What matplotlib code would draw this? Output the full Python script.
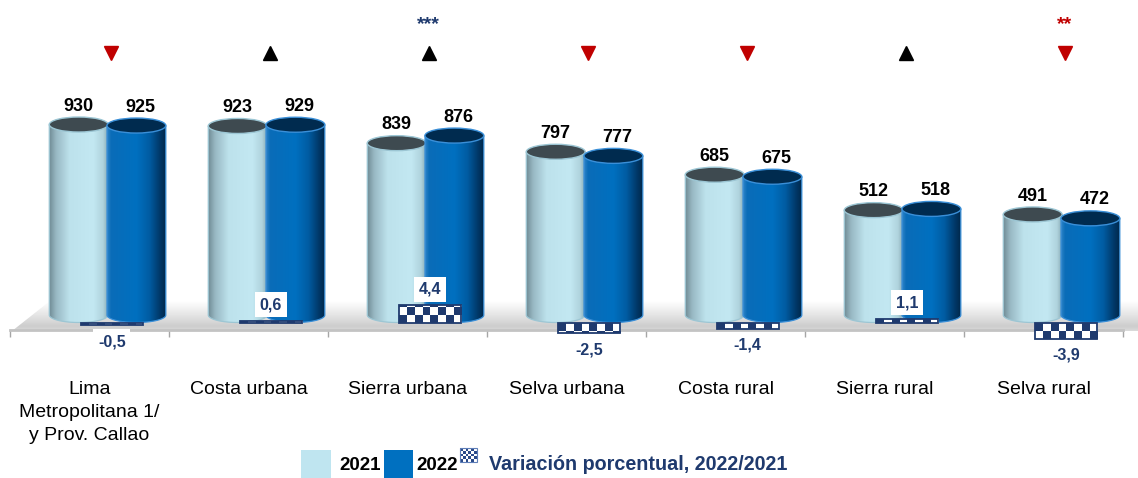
import numpy as np
import matplotlib
matplotlib.use("Agg")
import matplotlib.pyplot as plt
from matplotlib import font_manager as fm
from matplotlib.patches import Ellipse, PathPatch, Rectangle, Polygon
from matplotlib.path import Path
from matplotlib.colors import LinearSegmentedColormap

# ---------------- data ----------------
categories = ["Lima\nMetropolitana 1/\ny Prov. Callao", "Costa urbana", "Sierra urbana",
              "Selva urbana", "Costa rural", "Sierra rural", "Selva rural"]
values_2021 = [930, 923, 839, 797, 685, 512, 491]
values_2022 = [925, 929, 876, 777, 675, 518, 472]
variation = [-0.5, 0.6, 4.4, -2.5, -1.4, 1.1, -3.9]
variation_labels = ["-0,5", "0,6", "4,4", "-2,5", "-1,4", "1,1", "-3,9"]
trend = ["down", "up", "up", "down", "down", "up", "down"]
significance = ["", "", "***", "", "", "", "**"]
series_names = ["2021", "2022", "Variación porcentual, 2022/2021"]

# ---------------- fonts ----------------
names = {f.name for f in fm.fontManager.ttflist}
NARROW = "Liberation Sans Narrow" if "Liberation Sans Narrow" in names else "Liberation Sans"
SANS = "Liberation Sans"
plt.rcParams["font.family"] = [SANS, "DejaVu Sans"]

NAVY = "#1f3a6e"
LIGHT = "#bfe5f0"
DARK = "#0070c0"

W, H = 1138, 478
fig = plt.figure(figsize=(W / 100, H / 100), dpi=100)

# background axes in pixel coordinates (floor + legend)
bg = fig.add_axes([0, 0, 1, 1], zorder=-1)
bg.set_xlim(0, W)
bg.set_ylim(H, 0)
bg.axis("off")

floor = Polygon([(12, 331), (50, 301), (W, 301), (W, 331)], closed=True,
                facecolor="none", edgecolor="none")
bg.add_patch(floor)
fcmap = LinearSegmentedColormap.from_list(
    "floor", [(0, "#ffffff"), (0.45, "#e6e6e6"), (0.85, "#cdcdcd"), (1, "#dadada")])
grad_v = fcmap(np.linspace(0, 1, 64))[:, None, :]
im = bg.imshow(grad_v, extent=(0, W, 331, 301), aspect="auto", interpolation="bilinear")
im.set_clip_path(floor)
bg.set_xlim(0, W)
bg.set_ylim(H, 0)

# main axes
ax_bottom_px = 330
ax = fig.add_axes([10 / W, (H - ax_bottom_px) / H, 1113 / W, ax_bottom_px / H])
ax.patch.set_alpha(0)
YLIM = (-73.2, 1538)
ax.set_xlim(-0.5, 6.5)
ax.set_ylim(*YLIM)
px_per_unit = ax_bottom_px / (YLIM[1] - YLIM[0])
eh = 15 / px_per_unit  # ellipse height in data units

x = np.arange(len(categories))
bw = 0.37
bars21 = ax.bar(x - 0.068, values_2021, bw, color="none", edgecolor="none", zorder=3)
bars22 = ax.bar(x + 0.295, values_2022, bw, color="none", edgecolor="none", zorder=5)

cm21 = LinearSegmentedColormap.from_list(
    "c21", [(0, "#6f8a94"), (0.12, "#98b8c3"), (0.35, "#bde2ec"), (0.75, "#c3e8f2"),
            (0.92, "#afd3dd"), (1, "#8aabb5")])
cm22 = LinearSegmentedColormap.from_list(
    "c22", [(0, "#2f85c8"), (0.07, "#0a6cb8"), (0.5, "#0070c0"), (0.72, "#005ca2"),
            (0.9, "#003868"), (1, "#00284a")])


def cylinder(rect, cmap, edge, topc, z):
    x0 = rect.get_x()
    w = rect.get_width()
    x1 = x0 + w
    h = rect.get_height()
    cx = x0 + w / 2
    t = np.linspace(0, -np.pi, 60)
    verts = [(x0, h), (x1, h)] + [(cx + w / 2 * np.cos(a), eh / 2 * np.sin(a)) for a in t] + [(x0, h)]
    codes = [Path.MOVETO] + [Path.LINETO] * (len(verts) - 2) + [Path.CLOSEPOLY]
    body = PathPatch(Path(verts, codes), facecolor="none", edgecolor=edge, lw=0.9, zorder=z + 0.1)
    ax.add_patch(body)
    g = cmap(np.linspace(0, 1, 256))[None, :, :]
    img = ax.imshow(g, extent=(x0, x1, -eh / 2, h), aspect="auto", zorder=z,
                    interpolation="bilinear")
    img.set_clip_path(body)
    top = Ellipse((cx, h), w, eh, facecolor=topc, edgecolor=edge, lw=1.0, zorder=z + 0.2)
    ax.add_patch(top)
    return cx, h


for r in bars21:
    cx, h = cylinder(r, cm21, "#9cc6d4", "#3e4a50", 3)
    ax.annotate(f"{int(round(h))}", (cx, h), xytext=(0, 10), textcoords="offset points",
                ha="center", va="baseline", fontsize=13, fontweight="bold",
                family=NARROW, color="black", zorder=10)
for r in bars22:
    cx, h = cylinder(r, cm22, "#3a8fd8", "#002b4f", 5)
    ax.annotate(f"{int(round(h))}", (cx, h), xytext=(3, 10), textcoords="offset points",
                ha="center", va="baseline", fontsize=13, fontweight="bold",
                family=NARROW, color="black", zorder=10)

# trend markers and significance stars
mx = x + 0.133
for xi, tr, sig in zip(mx, trend, significance):
    if tr == "down":
        ax.plot(xi, 1279, marker="v", markersize=9.5, color="#c00000", clip_on=False, zorder=10)
        scol = "#c00000"
    else:
        ax.plot(xi, 1279, marker="^", markersize=9.5, color="black", clip_on=False, zorder=10)
        scol = NAVY
    if sig:
        ax.text(xi, 1420, sig, ha="center", va="center", fontsize=14, fontweight="bold",
                color=scol, family=NARROW, zorder=10)

# axes styling
for s in ["top", "left", "right"]:
    ax.spines[s].set_visible(False)
ax.spines["bottom"].set_color("#c3c3c3")
ax.spines["bottom"].set_linewidth(2)
ax.set_yticks([])
ax.set_xticks(x)
ax.set_xticklabels(categories, fontsize=14, family=SANS, linespacing=1.46)
ax.tick_params(axis="x", which="major", length=0, pad=36.5)
ax.set_xticks(np.arange(-0.5, len(categories), 1), minor=True)
ax.tick_params(axis="x", which="minor", length=5, width=1, color="#a6a6a6")

# variation bars (secondary axis)
ax2 = ax.twinx()
ax2.set_ylim(-1.75, 80.75)
ax2.set_xlim(-0.5, 6.5)
ax2.axis("off")
vpx = ax_bottom_px / (80.75 + 1.75)
vbars = ax2.bar(x + 0.14, variation, 0.39, color="none", edgecolor=NAVY, lw=1.3,
                zorder=6, clip_on=False)
cell_px = 7.75
for r, lab, v in zip(vbars, variation_labels, variation):
    x0 = r.get_x()
    w = r.get_width()
    hgt = r.get_height()
    ncol = 8
    hpx = abs(hgt) * vpx
    nrow = max(1, int(np.ceil(hpx / cell_px)))
    chk = (np.add.outer(np.arange(nrow), np.arange(ncol)) % 2).astype(float)
    ext_h = nrow * cell_px / vpx * np.sign(hgt)
    rgb = np.where(chk[..., None] > 0, np.array([1.0, 1.0, 1.0]),
                   np.array([0x1f, 0x3a, 0x6e]) / 255.0)
    if hgt >= 0:
        extent = (x0, x0 + w, 0, ext_h)
        origin = "lower"
    else:
        extent = (x0, x0 + w, ext_h, 0)
        origin = "upper"
    img = ax2.imshow(rgb, extent=extent, origin=origin, aspect="auto",
                     interpolation="nearest", zorder=5.5)
    img.set_clip_path(r)  # rectangle -> clip box equal to the bar
    cx = x0 + w / 2
    if v >= 0:
        off = 11.5
    else:
        off = -12
    ax2.annotate(lab, (cx, hgt), xytext=(0, off), textcoords="offset points",
                 ha="center", va="center", fontsize=11.5, fontweight="bold", family=NARROW,
                 color=NAVY, zorder=12, annotation_clip=False,
                 bbox=dict(boxstyle="square,pad=0.3", fc="white", ec="none"))
ax2.set_ylim(-1.75, 80.75)
ax2.set_xlim(-0.5, 6.5)
ax.set_xlim(-0.5, 6.5)
ax.set_ylim(*YLIM)

# legend (pixel coords on bg axes)
bg.add_patch(Rectangle((301, 450), 30, 28, facecolor=LIGHT, edgecolor="none"))
bg.text(339, 465, series_names[0], ha="left", va="center", fontsize=13.5, fontweight="bold",
        color="black", family=SANS)
bg.add_patch(Rectangle((384, 450), 29, 28, facecolor=DARK, edgecolor="none"))
bg.text(416, 465, series_names[1], ha="left", va="center", fontsize=13.5, fontweight="bold",
        color="black", family=SANS)
lchk = (np.add.outer(np.arange(5), np.arange(6)) % 2).astype(float)
lrgb = np.where(lchk[..., None] > 0, np.array([1.0, 1.0, 1.0]),
                np.array([0x2a, 0x4a, 0x8a]) / 255.0)
bg.imshow(lrgb, extent=(460, 477, 462, 448), interpolation="nearest", aspect="auto")
bg.add_patch(Rectangle((460, 448), 17, 14, facecolor="none", edgecolor="#5f7fb8", lw=0.8))
bg.text(489, 465, series_names[2], ha="left", va="center", fontsize=14.2, fontweight="bold",
        color=NAVY, family=SANS)
bg.set_xlim(0, W)
bg.set_ylim(H, 0)

fig.savefig("out.png", dpi=100)
